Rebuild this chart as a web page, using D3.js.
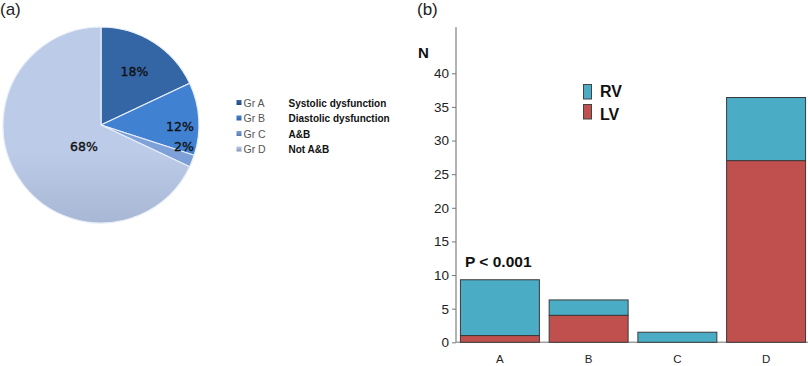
<!DOCTYPE html>
<html><head><meta charset="utf-8">
<script src="https://cdn.jsdelivr.net/npm/d3@7"></script>
<style>body{margin:0;background:#fff}svg{display:block}</style>
</head><body>
<svg id="c" width="808" height="366"></svg>
<script>
// Pie data
const pieGroups = ["Gr A","Gr B","Gr C","Gr D"];
const pieDescriptions = ["Systolic dysfunction","Diastolic dysfunction","A&B","Not A&B"];
const pieValues = [18, 12, 2, 68];
const pieLabels = ["18%","12%","2%","68%"];
// Bar data
const barCategories = ["A","B","C","D"];
const lvValues = [1, 4, 0, 27];
const rvValues = [8.3, 2.3, 1.5, 9.4];
const yTicks = [0,5,10,15,20,25,30,35,40];

const svg = d3.select("#c");
const defs = svg.append("defs");

// ---------- Pie ----------
const cx = 101, cy = 125, R = 98;
const pieTop = ["#3466a6","#4181d2","#7da1d8","#bccbe7"];
const pieBot = ["#244a78","#3262a6","#5878ae","#8594b4"];
pieGroups.forEach((g,i)=>{
  const lg = defs.append("linearGradient").attr("id","pg"+i)
    .attr("gradientUnits","userSpaceOnUse").attr("x1",0).attr("y1",cy-R).attr("x2",0).attr("y2",cy+R);
  lg.append("stop").attr("offset","0%").attr("stop-color",pieTop[i]);
  lg.append("stop").attr("offset","100%").attr("stop-color",pieBot[i]);
  const lg2 = defs.append("linearGradient").attr("id","lg"+i).attr("x1",0).attr("y1",0).attr("x2",0).attr("y2",1);
  lg2.append("stop").attr("offset","0%").attr("stop-color",pieTop[i]);
  lg2.append("stop").attr("offset","100%").attr("stop-color",pieBot[i]);
});
const pie = d3.pie().sort(null).value(d=>d)(pieValues);
const arc = d3.arc().innerRadius(0).outerRadius(R);
const pg = svg.append("g").attr("transform",`translate(${cx},${cy})`);
pg.selectAll("path").data(pie).join("path")
  .attr("d",arc).attr("fill",(d,i)=>`url(#pg${i})`)
  .attr("stroke","#e8eef8").attr("stroke-width",1.2).attr("stroke-linejoin","round");

const labelPos = [[134.5,71.5],[180,126],[184,146],[84,146]];
svg.append("g").selectAll("text").data(pieLabels).join("text")
  .attr("x",(d,i)=>labelPos[i][0]).attr("y",(d,i)=>labelPos[i][1])
  .attr("dy","0.36em").attr("text-anchor","middle")
  .attr("font-family","DejaVu Sans, sans-serif").attr("font-size",12.5)
  .attr("fill","#111").attr("stroke","#111").attr("stroke-width",0.35).text(d=>d);

// Pie legend
const legY = d3.scalePoint().domain(pieGroups).range([103.5,150]);
const leg = svg.append("g");
pieGroups.forEach((g,i)=>{
  const y = legY(g);
  leg.append("rect").attr("x",236.5).attr("y",y-3.5).attr("width",5).attr("height",5)
    .attr("fill",`url(#lg${i})`);
  leg.append("text").attr("x",243.5).attr("y",y).attr("dy","0.33em")
    .attr("font-family","Liberation Sans, Arial, sans-serif").attr("font-size",10.5)
    .attr("fill","#555").text(g);
  leg.append("text").attr("x",288.5).attr("y",y).attr("dy","0.33em")
    .attr("font-family","Liberation Sans, Arial, sans-serif").attr("font-size",10).attr("font-weight","bold")
    .attr("fill","#111").text(pieDescriptions[i]);
});

svg.append("text").attr("x",0).attr("y",15).attr("font-family","Liberation Sans, Arial, sans-serif")
  .attr("font-size",17).attr("fill","#222").text("(a)");
svg.append("text").attr("x",417).attr("y",15).attr("font-family","Liberation Sans, Arial, sans-serif")
  .attr("font-size",17).attr("fill","#222").text("(b)");

// ---------- Bars ----------
const x0 = 456, yBase = 342.3;
const y = d3.scaleLinear().domain([0,40]).range([yBase,73.3]);
const x = d3.scaleBand().domain(barCategories).range([x0,810]).paddingInner(0.11).paddingOuter(0.05);

svg.append("line").attr("x1",x0).attr("x2",x0).attr("y1",27).attr("y2",yBase)
  .attr("stroke","#a0a0a0").attr("stroke-width",1.6);
svg.append("line").attr("x1",x0).attr("x2",808).attr("y1",yBase).attr("y2",yBase)
  .attr("stroke","#a0a0a0").attr("stroke-width",1.6);

const yAxis = d3.axisLeft(y).tickValues(yTicks).tickSize(4).tickPadding(3);
const ya = svg.append("g").attr("transform",`translate(${x0},0)`).call(yAxis);
ya.select(".domain").remove();
ya.selectAll(".tick line").attr("stroke","#777");
ya.selectAll(".tick text").attr("font-family","Liberation Sans, Arial, sans-serif")
  .attr("font-size",13.5).attr("fill","#222");

const xAxis = d3.axisBottom(x).tickSize(0).tickPadding(12.5);
const xa = svg.append("g").attr("transform",`translate(0,${yBase})`).call(xAxis);
xa.select(".domain").remove();
xa.selectAll(".tick text").attr("font-family","Liberation Sans, Arial, sans-serif")
  .attr("font-size",11.5).attr("fill","#222");

const RV = "#4bacc6", LV = "#c0504d";
const bars = svg.append("g");
barCategories.forEach((c,i)=>{
  const lv = lvValues[i], rv = rvValues[i];
  if (rv > 0) bars.append("rect").attr("x",x(c)).attr("width",x.bandwidth())
    .attr("y",y(lv+rv)).attr("height",y(lv)-y(lv+rv))
    .attr("fill",RV).attr("stroke","#3a3a3a").attr("stroke-width",1);
  if (lv > 0) bars.append("rect").attr("x",x(c)).attr("width",x.bandwidth())
    .attr("y",y(lv)).attr("height",y(0)-y(lv))
    .attr("fill",LV).attr("stroke","#3a3a3a").attr("stroke-width",1);
});

svg.append("text").attr("x",418).attr("y",58).attr("font-family","Liberation Sans, Arial, sans-serif")
  .attr("font-size",15).attr("font-weight","bold").attr("fill","#111").text("N");
svg.append("text").attr("x",465).attr("y",266.5).attr("font-family","Liberation Sans, Arial, sans-serif")
  .attr("font-size",15.5).attr("font-weight","bold").attr("fill","#111").text("P < 0.001");

// RV/LV legend
const bl = [["RV",RV,84.5,97],["LV",LV,104.5,120]];
bl.forEach(d=>{
  svg.append("rect").attr("x",583.5).attr("y",d[2]).attr("width",8).attr("height",14.5)
    .attr("fill",d[1]).attr("stroke","#444").attr("stroke-width",1);
  svg.append("text").attr("x",600).attr("y",d[3]).attr("font-family","Liberation Sans, Arial, sans-serif")
    .attr("font-size",16).attr("font-weight","bold").attr("fill","#111").text(d[0]);
});
</script>
</body></html>
